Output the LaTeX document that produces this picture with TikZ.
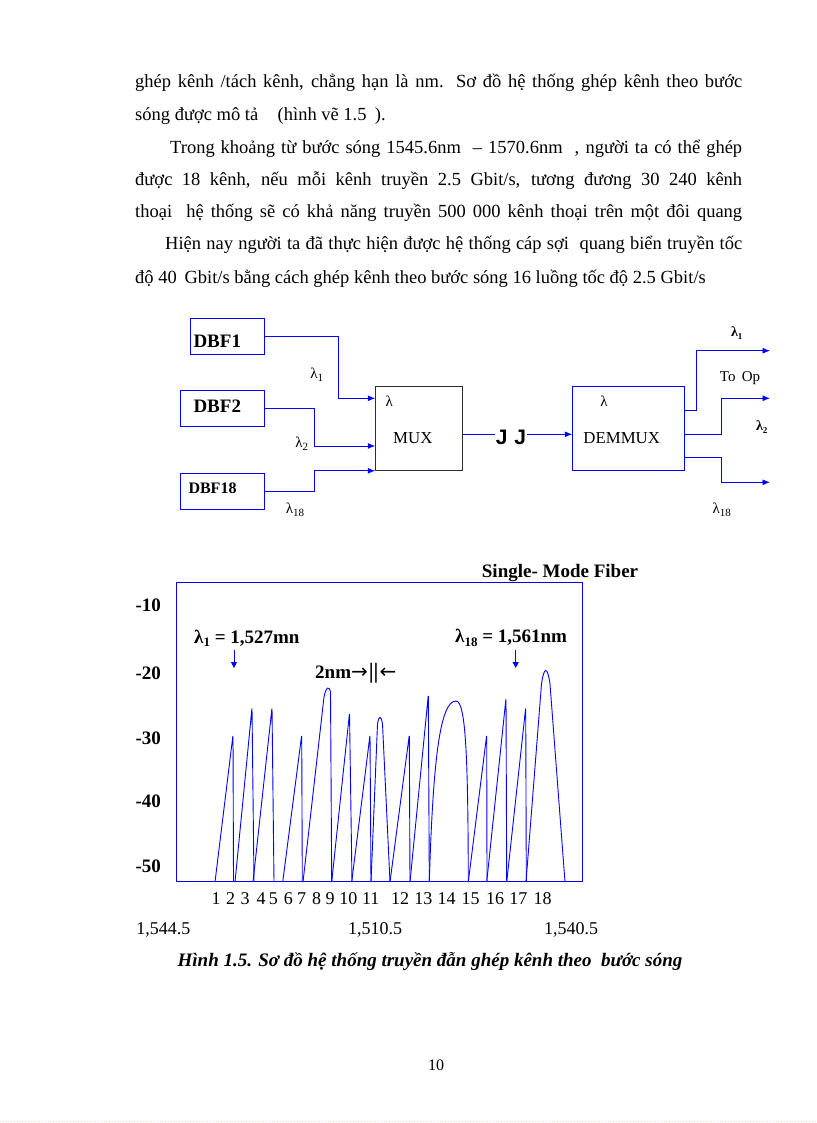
\documentclass[tikz,border=0pt]{standalone}
\usepackage{fontspec}
\setmainfont{Liberation Serif}
\newfontfamily\sansfam{Liberation Sans}
\newfontfamily\symfam{DejaVu Sans}
\usetikzlibrary{arrows.meta,calc}
\definecolor{wireblue}{RGB}{0,0,255}
\definecolor{boxgray}{RGB}{45,45,45}
\definecolor{dotcol}{RGB}{245,215,200}
\newcommand{\lamsub}[3]{λ\raisebox{-0.45ex}{\fontsize{#1}{#1}\selectfont #2}#3}
\begin{document}
\begin{tikzpicture}[x=1pt,y=-1pt,
  txt/.style={inner sep=0pt, font=\fontsize{18.5}{22}\selectfont},
  dbfbox/.style={draw=wireblue, line width=0.8pt, inner sep=0pt},
  dbflab/.style={inner sep=0pt, font=\fontsize{19}{22}\selectfont\bfseries},
  wire/.style={draw=wireblue, line width=0.9pt},
  warrow/.style={wire, -{Latex[length=7.5pt,width=6pt]}},
  lablam/.style={inner sep=0pt, font=\fontsize{15}{16}\selectfont},
  chartb/.style={inner sep=0pt, font=\fontsize{19}{22}\selectfont\bfseries},
  chartn/.style={inner sep=0pt, font=\fontsize{18}{20}\selectfont},
  peak/.style={draw=wireblue, line width=0.9pt, line join=round}
]
\fill[white] (0,0) rectangle (816,1123);
\useasboundingbox (0,0) rectangle (816,1123);

% ---------------- body text ----------------
\node[txt,anchor=base west] (l1) at (135,88) {\hbox to 607pt{ghép kênh /tách kênh,  chẳng hạn là nm. Sơ đồ hệ thống ghép kênh theo bước}};
\node[txt,anchor=base west] (l2) at (135,121) {sóng được mô tả \hspace{0.8em}(hình vẽ 1.5 \hspace{0.2em}).};
\node[txt,anchor=base west] (l3) at (170,154) {\hbox to 572pt{Trong khoảng từ bước sóng 1545.6nm \ – 1570.6nm \ , người ta có thể ghép}};
\node[txt,anchor=base west] (l4) at (135,186) {\hbox to 607pt{được 18 kênh, nếu mỗi kênh truyền 2.5 Gbit/s, tương đương 30 240 kênh}};
\node[txt,anchor=base west] (l5) at (135,218) {\hbox to 607pt{thoại \ hệ thống sẽ có khả năng truyền 500 000 kênh thoại trên một đôi quang}};
\node[txt,anchor=base west] (l6) at (165,250) {\hbox to 577pt{Hiện nay người ta đã thực hiện được hệ thống cáp sợi \ quang biển truyền tốc}};
\node[txt,anchor=base west] (l7) at (135,283) {độ 40 \,Gbit/s bằng cách ghép kênh theo bước sóng 16 luồng tốc độ 2.5 Gbit/s};

% ---------------- block diagram ----------------
\node[dbfbox, minimum width=73.6pt, minimum height=35.7pt] (dbf1) at (227.5,336.2) {};
\node[dbfbox, minimum width=84.3pt, minimum height=36pt] (dbf2) at (222.2,408) {};
\node[dbfbox, minimum width=84.3pt, minimum height=35.7pt] (dbf18) at (222.2,491.2) {};
\node[dbflab, anchor=west] (t1) at (193.3,341.7) {DBF1};
\node[dbflab, anchor=west] (t2) at (193.3,406.7) {DBF2};
\node[dbflab, anchor=west, font=\fontsize{16}{18}\selectfont\bfseries] (t18) at (188.3,488) {DBF18};

\node[draw=boxgray, line width=0.9pt, minimum width=86.6pt, minimum height=84.3pt, inner sep=0pt] (mux) at (419,428.15) {};
\node[draw=wireblue, line width=0.9pt, minimum width=111.3pt, minimum height=84.3pt, inner sep=0pt] (demux) at (628.35,428.15) {};
\node[lablam] (mlam) at (389.3,401.7) {λ};
\node[inner sep=0pt, font=\fontsize{16.8}{18}\selectfont] (mtxt) at (412.8,438.3) {MUX};
\node[lablam] (dlam) at (604,401.7) {λ};
\node[inner sep=0pt, font=\fontsize{16.8}{18}\selectfont] (dtxt) at (621.7,438.3) {DEMMUX};

\coordinate (in1) at ([yshift=29.85pt]mux.west);
\coordinate (in2) at ([yshift=-17.85pt]mux.west);
\draw[warrow] (dbf1.east) -- ++(74,0) |- (in1);
\draw[warrow] (dbf2.east) -- ++(49.7,0) |- (in2);
\draw[warrow] (dbf18.east) -- ++(49.7,0) |- (mux.south west);

\node[lablam] (la1) at (316.7,375) {\lamsub{11}{1}{}};
\node[lablam] (la2) at (301.7,443.3) {\lamsub{11}{2}{}};
\node[lablam] (la18) at (295,510) {\lamsub{11}{18}{}};

\node[inner sep=1pt, font=\sansfam\fontsize{21}{21}\selectfont\bfseries] (jj) at (511,437) {J\,\,J};
\coordinate (mout) at ([yshift=-6.15pt]mux.east);
\coordinate (dmin) at ([yshift=-6.15pt]demux.west);
\draw[wire] (mout) -- (mout -| jj.west);
\draw[warrow] (dmin -| jj.east) -- (dmin);

\coordinate (e1) at (770,350.7);
\coordinate (e2) at (770,398.3);
\coordinate (e3) at (770,482.3);
\draw[warrow] ([yshift=18.15pt]demux.east) -- ++(12,0) |- (e1);
\draw[warrow] ([yshift=-6.15pt]demux.east) -- ++(36.7,0) |- (e2);
\draw[warrow] ([yshift=-29.55pt]demux.east) -- ++(36.7,0) |- (e3);

\node[inner sep=0pt, font=\fontsize{14}{15}\selectfont\bfseries] (o1) at (736.7,332.7) {\lamsub{9}{1}{}};
\node[inner sep=0pt, font=\fontsize{15}{16}\selectfont] (toop) at (740,378.3) {To \,Op};
\node[inner sep=0pt, font=\fontsize{14}{15}\selectfont\bfseries] (o2) at (761.7,426.7) {\lamsub{9}{2}{}};
\node[lablam] (o18) at (721.7,510) {\lamsub{11}{18}{}};

% ---------------- chart ----------------
\draw[draw=wireblue, line width=0.9pt] (176,582.3) rectangle (582.7,881.7);
\node[chartb, anchor=west] (title) at (481.7,572.7) {Single- Mode Fiber};
\foreach \v/\yy in {-10/605,-20/673.3,-30/738.3,-40/801.7,-50/866.7}
  \node[chartb] (ax\v) at (148.3,\yy) {\v};

\node[chartb, anchor=west] (lam1) at (194,638.3) {\lamsub{13}{1}{} = 1,527mn};
\node[chartb, anchor=west] (lam18) at (455,638.3) {\lamsub{13}{18}{} = 1,561nm};
\coordinate (a1s) at (234,650); \coordinate (a1e) at (234,668);
\coordinate (a2s) at (515.7,650); \coordinate (a2e) at (515.7,668);
\draw[draw=wireblue, line width=0.9pt, -{Triangle[length=6pt,width=6pt]}] (a1s) -- (a1e);
\draw[draw=wireblue, line width=0.9pt, -{Triangle[length=6pt,width=6pt]}] (a2s) -- (a2e);
\node[chartb, anchor=west] (nm2) at (315,673.3) {2nm{\symfam\mdseries\fontsize{20}{20}\selectfont →}\kern1pt{\fontsize{22}{22}\selectfont ||}\kern1pt{\symfam\mdseries\fontsize{20}{20}\selectfont ←}};

% peaks
\begin{scope}[rounded corners=1.2pt]
\draw[peak] (215,882) -- (233,735) -- (233.5,882);
\draw[peak] (235,882) -- (252,707.7) -- (254,882);
\draw[peak] (253,882) -- (272,707.7) -- (274,882);
\draw[peak] (282.7,882) -- (301.7,735) -- (302.3,882);
\draw[peak] (331.7,882) -- (349.5,713) -- (352,882);
\draw[peak] (351.7,882) -- (370,735) -- (371,882);
\draw[peak] (390,882) -- (409.3,735) -- (410,882);
\draw[peak] (410,882) -- (428.3,695) -- (429.3,882);
\draw[peak] (468.3,882) -- (486.7,735) -- (487,882);
\draw[peak] (486.7,882) -- (506,698.3) -- (506.7,882);
\draw[peak] (506.7,882) -- (525.7,707.7) -- (526.3,882);
\end{scope}
\draw[peak] (303,882) -- (324,697) .. controls (326,687) and (329,685) .. (330.5,692) -- (331.7,882);
\draw[peak] (371,882) -- (377.5,724) .. controls (379,715) and (381,715) .. (382.5,724) -- (390,882);
\draw[peak] (429.3,882) .. controls (433,760) and (440,701) .. (456,701) .. controls (466,701) and (468,760) .. (468.3,882);
\draw[peak] (526,882) -- (541.5,684) .. controls (544,666) and (547.5,666) .. (550,684) -- (565,882);

\foreach \n/\xx in {1/216,2/230.7,3/245,4/261,5/273.3,6/288.3,7/301.7,8/316.7,9/330,10/348.3,11/370.7,12/400,13/423.3,14/446.7,15/470.7,16/495,17/518.3,18/542.7}
  \node[chartn] (n\n) at (\xx,898.3) {\n};

\node[inner sep=0pt, font=\fontsize{18}{20}\selectfont] (b1) at (163.3,930) {1,544.5};
\node[inner sep=0pt, font=\fontsize{18}{20}\selectfont] (b2) at (375,930) {1,510.5};
\node[inner sep=0pt, font=\fontsize{18}{20}\selectfont] (b3) at (571,930) {1,540.5};

\node[inner sep=0pt, font=\fontsize{19}{21}\selectfont\bfseries\itshape] (cap) at (430,961.7) {Hình 1.5. Sơ đồ hệ thống truyền đẫn ghép kênh theo \ bước sóng};

\node[inner sep=0pt, font=\fontsize{16}{18}\selectfont] (pg) at (436,1065) {10};

\coordinate (dl) at (0,1121.5); \coordinate (dr) at (816,1121.5);
\draw[dotcol, line width=0.8pt, dotted] (dl) -- (dr);
\end{tikzpicture}
\end{document}
